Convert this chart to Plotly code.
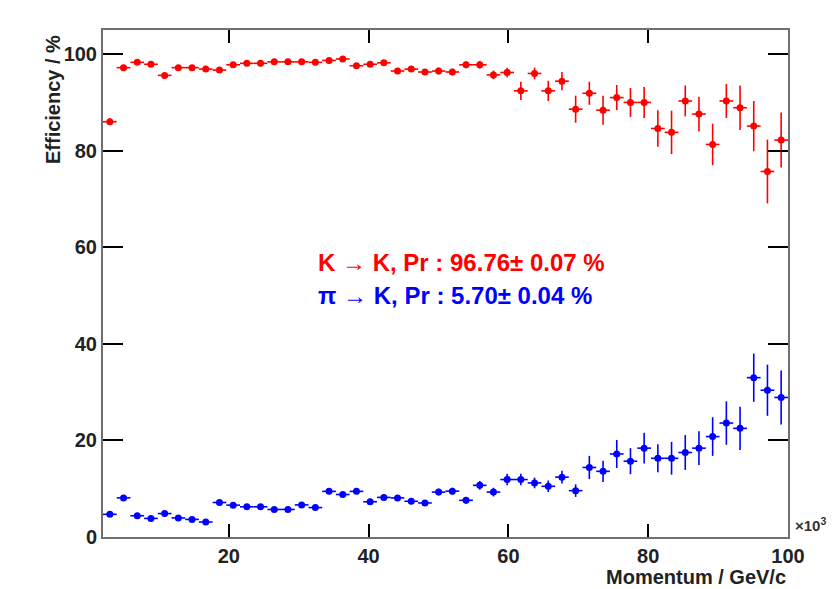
import plotly.graph_objects as go

# ---- data ----
momentum = [2.98, 4.94, 6.90, 8.86, 10.82, 12.78, 14.74, 16.70, 18.66, 20.62,
            22.58, 24.54, 26.50, 28.46, 30.42, 32.38, 34.34, 36.30, 38.26, 40.22,
            42.18, 44.14, 46.10, 48.06, 50.02, 51.98, 53.94, 55.90, 57.86, 59.82,
            61.78, 63.74, 65.70, 67.66, 69.62, 71.58, 73.54, 75.50, 77.46, 79.42,
            81.38, 83.34, 85.30, 87.26, 89.22, 91.18, 93.14, 95.10, 97.06, 99.02]
bin_half_width = 0.98

eff_kk = [86.0, 97.2, 98.3, 97.9, 95.6, 97.2, 97.2, 96.9, 96.7, 97.8,
          98.1, 98.1, 98.4, 98.4, 98.4, 98.3, 98.7, 99.0, 97.6, 97.9,
          98.2, 96.5, 96.9, 96.3, 96.5, 96.3, 97.8, 97.8, 95.7, 96.2,
          92.4, 96.0, 92.4, 94.4, 88.6, 91.9, 88.4, 91.0, 90.0, 90.0,
          84.6, 83.8, 90.3, 87.6, 81.3, 90.3, 88.9, 85.1, 75.7, 82.2]
err_kk = [0.7, 0.4, 0.4, 0.4, 0.5, 0.4, 0.4, 0.4, 0.4, 0.4,
          0.4, 0.4, 0.4, 0.4, 0.4, 0.4, 0.4, 0.4, 0.5, 0.5,
          0.5, 0.6, 0.6, 0.6, 0.7, 0.7, 0.7, 0.8, 0.9, 1.0,
          1.9, 1.2, 2.1, 1.9, 2.8, 2.4, 3.0, 2.6, 3.0, 3.2,
          3.8, 4.5, 3.2, 3.6, 4.3, 3.5, 4.6, 5.2, 6.6, 5.7]

eff_pik = [4.7, 8.1, 4.4, 3.85, 4.85, 3.95, 3.65, 3.1, 7.15, 6.6,
           6.25, 6.25, 5.7, 5.7, 6.65, 6.1, 9.45, 8.8, 9.45, 7.3,
           8.2, 8.1, 7.4, 7.05, 9.3, 9.5, 7.6, 10.7, 9.3, 11.9,
           11.9, 11.2, 10.5, 12.4, 9.6, 14.4, 13.6, 17.2, 15.7, 18.4,
           16.3, 16.3, 17.5, 18.4, 20.8, 23.6, 22.5, 33.0, 30.4, 28.9]
err_pik = [0.4, 0.5, 0.4, 0.4, 0.4, 0.4, 0.4, 0.4, 0.5, 0.5,
           0.5, 0.5, 0.5, 0.5, 0.5, 0.5, 0.6, 0.6, 0.6, 0.6,
           0.6, 0.6, 0.6, 0.6, 0.7, 0.7, 0.7, 0.9, 0.9, 1.2,
           1.2, 1.1, 1.2, 1.3, 1.3, 2.4, 2.2, 2.9, 2.7, 3.2,
           2.9, 3.4, 3.6, 3.5, 4.0, 4.5, 4.5, 5.0, 5.3, 5.6]

label_kk = "K \u2192 K, Pr : 96.76\u00b1 0.07 %"
label_pik = "\u03c0 \u2192 K, Pr : 5.70\u00b1 0.04 %"

x_range = [2, 100]
y_range = [0, 105]
major_step = 20

FONT = "Liberation Sans, Arial, Helvetica, sans-serif"
RED = "#ff0000"
BLUE = "#0000ff"
AXIS = "#707070"
TXT = "#222222"

fig = go.Figure()
for y, e, c in [(eff_kk, err_kk, RED), (eff_pik, err_pik, BLUE)]:
    fig.add_trace(go.Scatter(
        x=momentum, y=y, mode="markers",
        marker=dict(symbol="circle", size=7, color=c),
        error_y=dict(type="data", array=e, visible=True, color=c, thickness=1.6, width=0),
        error_x=dict(type="constant", value=bin_half_width, visible=True, color=c, thickness=1.6, width=0),
        showlegend=False, hoverinfo="skip",
    ))

fig.update_layout(template="none")
fig.update_xaxes(range=x_range, dtick=major_step, tick0=0, ticks="inside", ticklen=13,
                 tickwidth=2, tickcolor="black", showline=True, linecolor=AXIS, linewidth=2,
                 mirror="ticks", showgrid=False, zeroline=False,
                 tickfont=dict(family=FONT, size=20, color=TXT, weight="bold"))
fig.update_yaxes(range=y_range, dtick=major_step, tick0=0, ticks="inside", ticklen=20,
                 tickwidth=2, tickcolor="black", showline=True, linecolor=AXIS, linewidth=2,
                 mirror="ticks", showgrid=False, zeroline=False,
                 tickfont=dict(family=FONT, size=20, color=TXT, weight="bold"))

annotations = [
    dict(text=label_kk, x=0.311, y=0.542, xref="paper", yref="paper",
         xanchor="left", yanchor="middle", showarrow=False,
         font=dict(family=FONT, size=24, color=RED, weight="bold")),
    dict(text=label_pik, x=0.311, y=0.477, xref="paper", yref="paper",
         xanchor="left", yanchor="middle", showarrow=False,
         font=dict(family=FONT, size=24, color=BLUE, weight="bold")),
    dict(text="Efficiency / %", textangle=-90, x=-0.073, y=0.995, xref="paper", yref="paper",
         xanchor="center", yanchor="top", showarrow=False,
         font=dict(family=FONT, size=20, color=TXT, weight="bold")),
    dict(text="Momentum / GeV/c", x=1.0, y=(537 - 577) / 507, xref="paper", yref="paper",
         xanchor="right", yanchor="middle", showarrow=False,
         font=dict(family=FONT, size=20, color=TXT, weight="bold")),
    dict(text="\u00d710<sup>3</sup>", x=1.007, y=0.025, xref="paper", yref="paper",
         xanchor="left", yanchor="middle", showarrow=False,
         font=dict(family=FONT, size=15, color="#333333", weight="bold")),
]

fig.update_layout(
    width=834, height=589, autosize=False,
    margin=dict(l=103, r=46, t=30, b=52, pad=0),
    paper_bgcolor="white", plot_bgcolor="white",
    annotations=annotations,
)

fig.write_html("out.html", config={"displayModeBar": False},
               post_script="document.body.style.margin='0';")
